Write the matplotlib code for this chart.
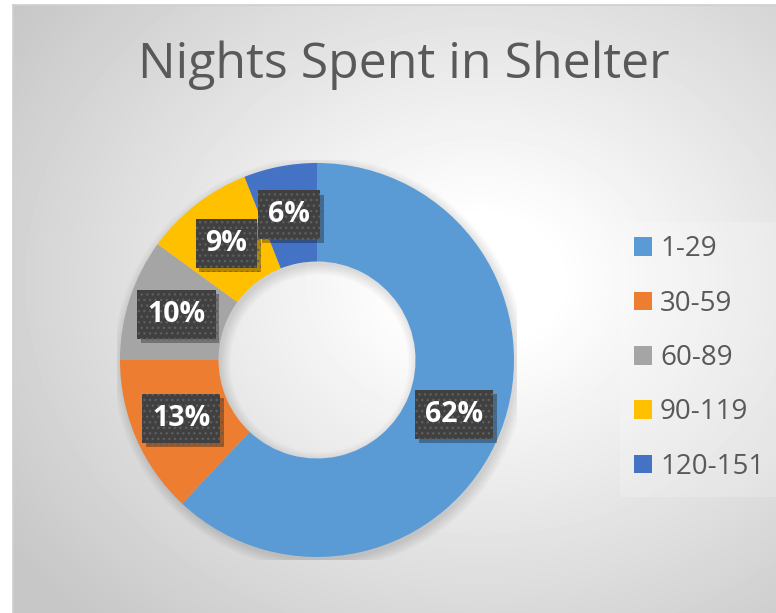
import numpy as np
import matplotlib.pyplot as plt
import matplotlib.patheffects as pe
from matplotlib.patches import Wedge, Rectangle

labels = ['1-29', '30-59', '60-89', '90-119', '120-151']
shares = [62, 13, 10, 9, 6]
colors = ['#5B9BD5', '#ED7D31', '#A5A5A5', '#FFC000', '#4472C4']
title = 'Nights Spent in Shelter'

W, H = 776, 613
plt.rcParams['font.family'] = ['Open Sans', 'DejaVu Sans']
fig = plt.figure(figsize=(W / 100, H / 100), dpi=100)

# chart area with soft radial gradient
bg = fig.add_axes([13 / W, 0, 1 - 13 / W, 1 - 5 / H])
yy, xx = np.mgrid[5:H, 13:W]
d = np.sqrt(((xx - 480) / 520) ** 2 + ((yy - 280) / 420) ** 2)
t = np.clip((d - 0.15) / 0.95, 0, 1)
bg.imshow(1 - 0.22 * t, cmap='gray', vmin=0, vmax=1, aspect='auto',
          interpolation='bilinear')
bg.set_xticks([])
bg.set_yticks([])
for side, sp in bg.spines.items():
    sp.set_visible(side in ('left', 'top'))
    sp.set_color('#cfcfcf')
    sp.set_linewidth(1.2)

# slightly lighter legend area
bg.add_patch(Rectangle((620 / W, 1 - 497 / H), 156 / W, 275 / H,
                       transform=fig.transFigure, facecolor='white',
                       alpha=0.2, edgecolor='none'))

# donut
R = 197
ax = fig.add_axes([(317 - 200) / W, (H - 360 - 200) / H, 400 / W, 400 / H])
for k in range(8):
    e = 0.007 * k
    ax.add_patch(Wedge((0.012, -0.018), 1 + e, 0, 360, width=0.5 + 2 * e,
                       facecolor='black', alpha=0.015, edgecolor='none'))

wedges, _, autotexts = ax.pie(
    shares, colors=colors, startangle=90, counterclock=False, radius=1,
    autopct='%1.0f%%', pctdistance=0.75,
    wedgeprops=dict(width=0.5, linewidth=0),
    textprops=dict(color='white', fontsize=20.5, fontweight='bold'))

for txt in autotexts:
    txt.set_bbox(dict(boxstyle='square,pad=0.35', facecolor='#404040',
                      edgecolor='#5e5e5e', linewidth=0, hatch='...'))
    txt.get_bbox_patch().set_path_effects([
        pe.SimplePatchShadow(offset=(2.5, -3), shadow_rgbFace='black', alpha=0.3),
        pe.Normal()])

ax.set_xlim(-200 / R, 200 / R)
ax.set_ylim(-200 / R, 200 / R)
ax.axis('off')

fig.text(404 / W, 1 - 65 / H, title, ha='center', va='center',
         fontsize=36, color='#595959')

ax.legend(wedges, labels, loc='center left',
          bbox_to_anchor=(634 / W, 1 - 358 / H), bbox_transform=fig.transFigure,
          frameon=False, borderpad=0, borderaxespad=0, fontsize=20,
          handlelength=0.65, handleheight=0.65, handletextpad=0.29,
          labelspacing=0.95, labelcolor='#595959')

fig.savefig('out.png', dpi=100)
